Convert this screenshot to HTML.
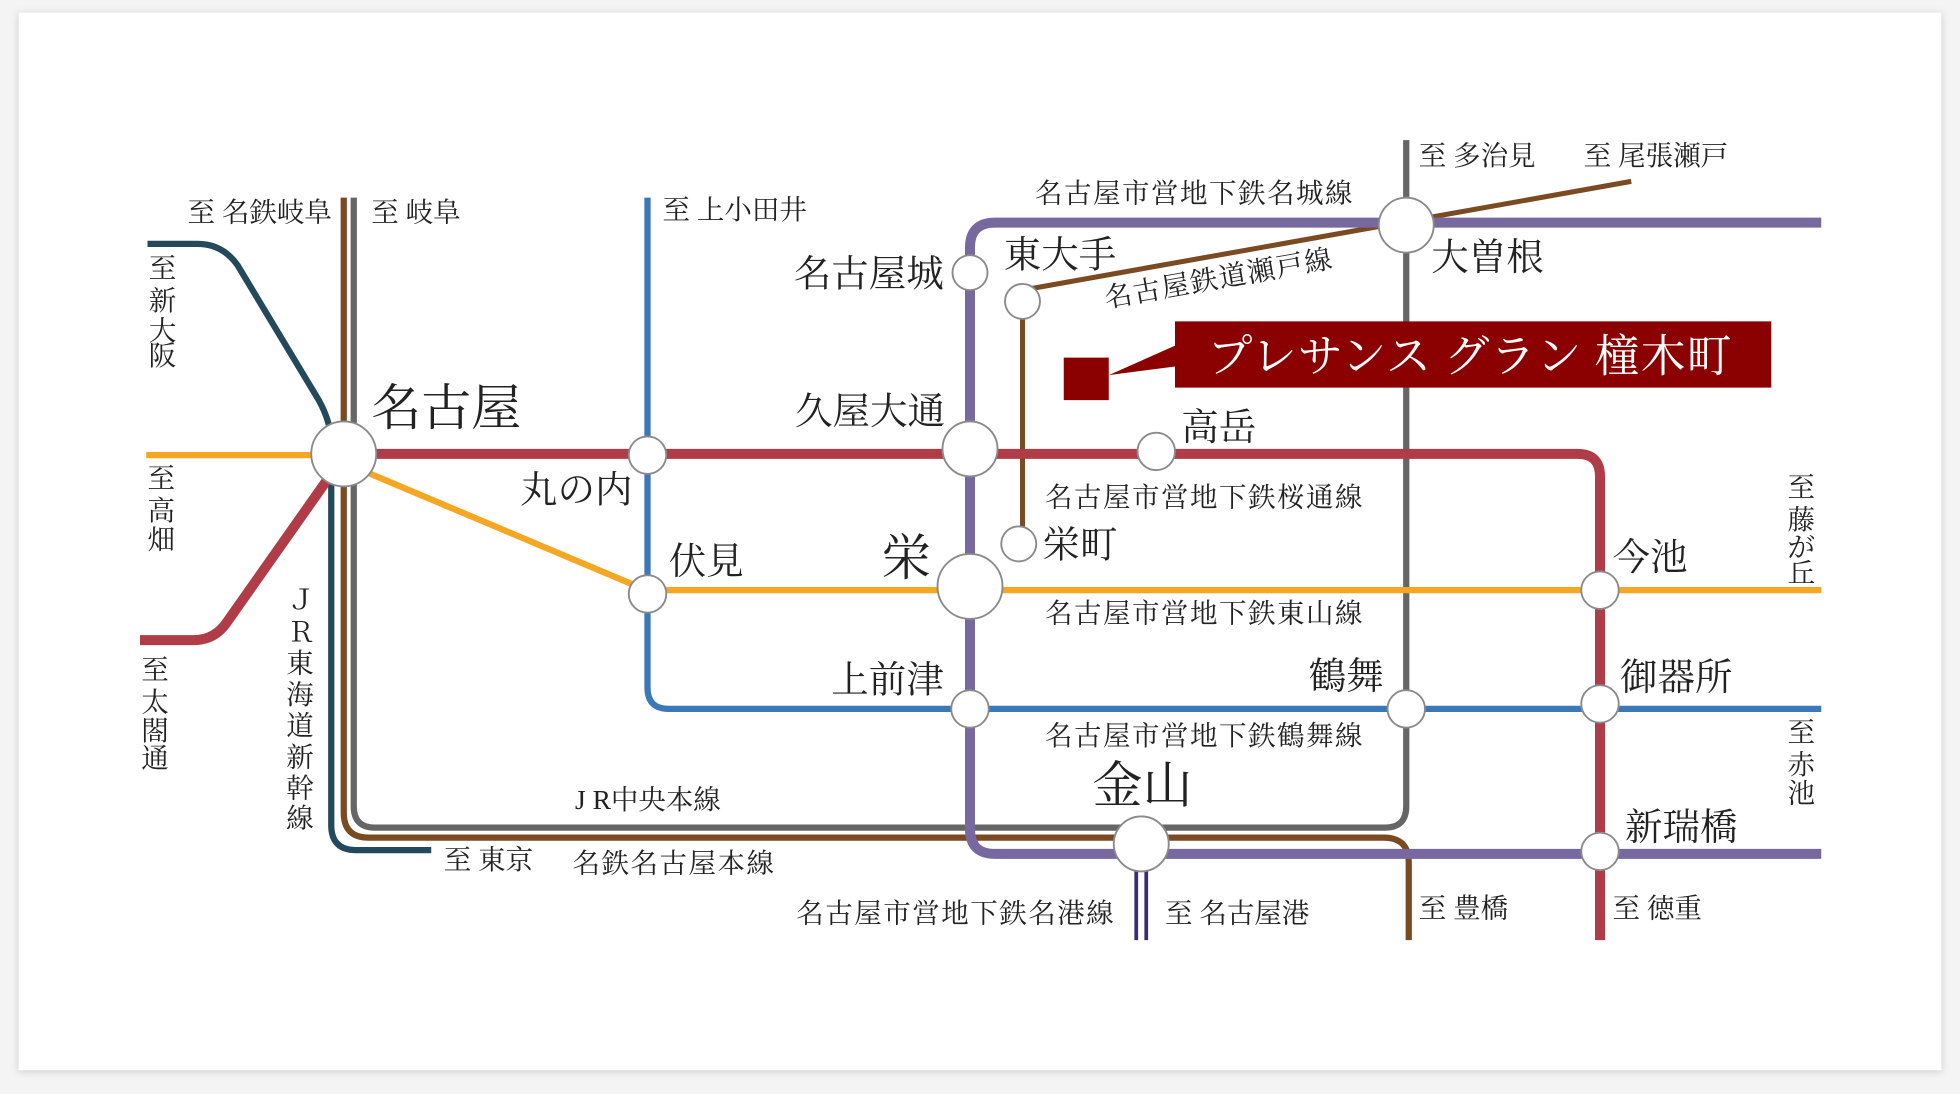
<!DOCTYPE html>
<html><head><meta charset="utf-8"><style>
html,body{margin:0;padding:0;background:#f4f4f4;width:1960px;height:1094px;overflow:hidden}
svg{display:block}
text{font-family:"Liberation Serif","Noto Serif CJK SC","Noto Serif CJK JP",serif;fill:#222}
.s{font-size:22px;letter-spacing:1.2px}.t{font-size:22px;letter-spacing:0}.m{font-size:30px}.l{font-size:40px}
</style></head><body>
<svg width="1960" height="1094" viewBox="0 0 1568 875" xmlns="http://www.w3.org/2000/svg">
<defs><filter id="sh" x="-5%" y="-5%" width="110%" height="110%"><feDropShadow dx="0" dy="1" stdDeviation="3" flood-color="#000" flood-opacity="0.18"/></filter></defs>
<rect x="15" y="10" width="1538" height="846" fill="#fff" filter="url(#sh)"/>
<g fill="none" stroke-linecap="butt">
<path d="M118 195 H158 Q178 195 190 212 L255 320 Q265 338 265 355 V660 Q265 680 285 680 H345" stroke="#24495a" stroke-width="5"/>
<path d="M275 158 V650 Q275 670 295 670 H1107 Q1127 670 1127 690 V752" stroke="#7a4a22" stroke-width="5"/>
<path d="M283 158 V645 Q283 662 300 662 H1108 Q1125 662 1125 645 V112" stroke="#666" stroke-width="5"/>
<path d="M818 232 L1305 145" stroke="#7a4a22" stroke-width="4"/>
<path d="M818 241 V430" stroke="#7a4a22" stroke-width="4"/>
<path d="M909 683 V752 M917 683 V752" stroke="#3a2e70" stroke-width="3"/>
<path d="M1457 178 H796 Q776 178 776 198 V663 Q776 683 796 683 H1457" stroke="#7868a0" stroke-width="8"/>
<path d="M518 158 V550 Q518 567 535 567 H1457" stroke="#3a78b8" stroke-width="5"/>
<path d="M117 364 H262 M275 370 L517 472 H1457" stroke="#f5a623" stroke-width="5"/>
<path d="M275 363 H1262 Q1280 363 1280 381 V752" stroke="#b03c48" stroke-width="8"/>
<path d="M112 512 H155 Q172 512 182 497 L270 372" stroke="#b03c48" stroke-width="8"/>
</g>
<g fill="#fff" stroke="#8a8a8a" stroke-width="1.5">
<circle cx="275" cy="363" r="26"/>
<circle cx="518" cy="364" r="15"/>
<circle cx="776" cy="359" r="22"/>
<circle cx="925" cy="361" r="15"/>
<circle cx="776" cy="218" r="14"/>
<circle cx="818" cy="241" r="14"/>
<circle cx="1125" cy="180" r="22"/>
<circle cx="815" cy="435" r="14"/>
<circle cx="776" cy="469" r="26"/>
<circle cx="518" cy="475" r="15"/>
<circle cx="1280" cy="472" r="15"/>
<circle cx="776" cy="567" r="15"/>
<circle cx="1125" cy="567" r="15"/>
<circle cx="1280" cy="563" r="15"/>
<circle cx="913" cy="675" r="22"/>
<circle cx="1280" cy="681" r="15"/>
</g>
<rect x="940" y="257" width="477" height="53" fill="#8b0000"/>
<rect x="851" y="286" width="36" height="34" fill="#8b0000"/>
<polygon points="941,276 887,300 941,293" fill="#8b0000"/>
<text x="966" y="297" style="font-size:36px;fill:#fff;letter-spacing:0.8px">プレサンス グラン 橦木町</text>
<text class="t" x="150" y="177">至 名鉄岐阜</text>
<text class="t" x="297" y="177">至 岐阜</text>
<text class="t" x="530" y="175">至 上小田井</text>
<text class="t" x="1135" y="132">至 多治見</text>
<text class="t" x="1267" y="132">至 尾張瀬戸</text>
<text class="s" x="828" y="162">名古屋市営地下鉄名城線</text>
<text class="s" x="885" y="246" transform="rotate(-10 885 246)">名古屋鉄道瀬戸線</text>
<text class="s" x="836" y="405">名古屋市営地下鉄桜通線</text>
<text class="s" x="836" y="498">名古屋市営地下鉄東山線</text>
<text class="s" x="836" y="596">名古屋市営地下鉄鶴舞線</text>
<text class="t" x="460" y="647">J R中央本線</text>
<text class="s" x="458" y="698">名鉄名古屋本線</text>
<text class="t" x="355" y="695">至 東京</text>
<text class="s" x="637" y="738">名古屋市営地下鉄名港線</text>
<text class="t" x="932" y="738">至 名古屋港</text>
<text class="t" x="1135" y="734">至 豊橋</text>
<text class="t" x="1290" y="734">至 徳重</text>
<text class="l" x="297" y="340">名古屋</text>
<text class="m" x="635" y="229">名古屋城</text>
<text class="m" x="803" y="214">東大手</text>
<text class="m" x="1145" y="216">大曽根</text>
<text class="m" x="636" y="339">久屋大通</text>
<text class="m" x="945" y="352">高岳</text>
<text class="m" x="416" y="402">丸の内</text>
<text class="m" x="834" y="446">栄町</text>
<text class="m" x="535" y="459">伏見</text>
<text class="l" x="705" y="460">栄</text>
<text class="m" x="1290" y="456">今池</text>
<text class="m" x="665" y="554">上前津</text>
<text class="m" x="1047" y="551">鶴舞</text>
<text class="m" x="1296" y="552">御器所</text>
<text class="l" x="874" y="642">金山</text>
<text class="m" x="1300" y="672">新瑞橋</text>
<g>
<text class="t" x="119" y="222">至</text><text class="t" x="119" y="248">新</text><text class="t" x="119" y="272">大</text><text class="t" x="119" y="292">阪</text>
<text class="t" x="118" y="390">至</text><text class="t" x="118" y="416">高</text><text class="t" x="118" y="439">畑</text>
<text class="t" x="113" y="543">至</text><text class="t" x="113" y="569">太</text><text class="t" x="113" y="592">閤</text><text class="t" x="113" y="614">通</text>
<text class="t" x="1430" y="397">至</text><text class="t" x="1430" y="423">藤</text><text class="t" x="1430" y="445">が</text><text class="t" x="1430" y="466">丘</text>
<text class="t" x="1430" y="593">至</text><text class="t" x="1430" y="619">赤</text><text class="t" x="1430" y="642">池</text>
<text class="t" x="230" y="487">Ｊ</text><text class="t" x="230" y="513">Ｒ</text>
<text class="t" x="229" y="538">東</text><text class="t" x="229" y="563">海</text><text class="t" x="229" y="588">道</text><text class="t" x="229" y="613">新</text><text class="t" x="229" y="638">幹</text><text class="t" x="229" y="662">線</text>
</g>
</svg>
</body></html>
